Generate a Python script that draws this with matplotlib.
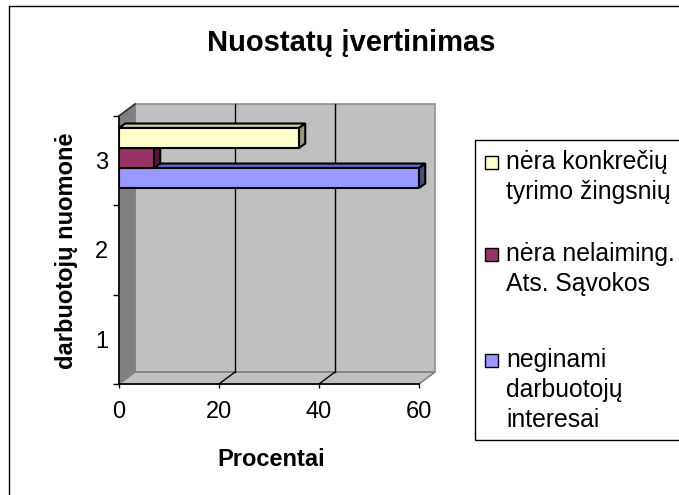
import numpy as np
import matplotlib
matplotlib.use("Agg")
import matplotlib.pyplot as plt
from matplotlib.patches import Polygon, Rectangle

plt.rcParams['font.family'] = ['Liberation Sans', 'DejaVu Sans']

# data
categories = [1, 2, 3]
series_labels = ['nėra konkrečių\ntyrimo žingsnių',
                 'nėra nelaiming.\nAts. Sąvokos',
                 'neginami\ndarbuotojų\ninteresai']
konkreciu = [np.nan, np.nan, 36]
savokos = [np.nan, np.nan, 7]
interesai = [np.nan, np.nan, 60]
xticks = [0, 20, 40, 60]

title = 'Nuostatų įvertinimas'
xlabel = 'Procentai'
ylabel = 'darbuotojų nuomonė'

# colours: front, top, side
front_cols = ['#FFFFCC', '#993366', '#9999FF']
top_cols = ['#CCCCA3', '#7A2952', '#6666CC']
side_cols = ['#999977', '#4D1A33', '#4D4D80']

W, H = 679, 495
fig = plt.figure(figsize=(W / 100, H / 100), dpi=100)
ax = fig.add_axes([119 / W, (H - 384) / H, 300 / W, 268 / H])
ax.set_xlim(0, 60)
ax.set_ylim(0.5, 3.5)
ax.patch.set_visible(False)
for s in ax.spines.values():
    s.set_visible(False)

# 3d wall depth (data units)
DX, DY = 3.2, 0.134
x0, x1 = xticks[0], xticks[-1]
y0, y1 = 0.5, 3.5

# back wall
ax.add_patch(Polygon([(x0 + DX, y0 + DY), (x1 + DX, y0 + DY), (x1 + DX, y1 + DY), (x0 + DX, y1 + DY)],
                     closed=True, fc='#C0C0C0', ec='#909090', lw=1.2, clip_on=False, zorder=0))
# left wall
ax.add_patch(Polygon([(x0, y0), (x0 + DX, y0 + DY), (x0 + DX, y1 + DY), (x0, y1)],
                     closed=True, fc='#808080', ec='#808080', lw=1, clip_on=False, zorder=0.5))
# floor
ax.add_patch(Polygon([(x0, y0), (x1, y0), (x1 + DX, y0 + DY), (x0 + DX, y0 + DY)],
                     closed=True, fc='#C0C0C0', ec='#808080', lw=1.2, clip_on=False, zorder=0.5))

# gridlines on wall and floor
for g in xticks[1:-1]:
    ax.plot([g + DX, g + DX], [y0 + DY, y1 + DY], color='k', lw=1, clip_on=False, zorder=1)
    ax.plot([g, g + DX], [y0, y0 + DY], color='k', lw=1, clip_on=False, zorder=1)

# axis lines
ax.plot([x0, x0], [y0, y1], color='k', lw=1.2, clip_on=False, zorder=1)
ax.plot([x0, x1], [y0, y0], color='k', lw=1.2, clip_on=False, zorder=1)
ax.plot([x0, x0 + DX], [y1, y1 + DY], color='#303030', lw=1.2, clip_on=False, zorder=1)

# bars
BH = 0.224
shift = 0.03
offsets = [BH, 0, -BH]
dxb, dyb = 1.25, 0.05
all_series = [konkreciu, savokos, interesai]
order = [2, 1, 0]  # draw lowest first
for k, i in enumerate(order):
    vals = all_series[i]
    ys = np.array(categories) + shift + offsets[i]
    z = 3 + k
    ax.barh(ys, vals, height=BH, left=0, color=front_cols[i], edgecolor='k', lw=1.5, zorder=z)
    for y, v in zip(ys, vals):
        if np.isnan(v):
            continue
        top = y + BH / 2
        bot = y - BH / 2
        ax.add_patch(Polygon([(0, top), (v, top), (v + dxb, top + dyb), (dxb, top + dyb)],
                             closed=True, fc=top_cols[i], ec='k', lw=1.5, zorder=z - 0.5, clip_on=False))
        ax.add_patch(Polygon([(v, bot), (v, top), (v + dxb, top + dyb), (v + dxb, bot + dyb)],
                             closed=True, fc=side_cols[i], ec='k', lw=1.5, zorder=z - 0.4, clip_on=False))

# ticks
ax.set_xticks(xticks)
ax.tick_params(axis='x', length=3, width=1, direction='out', pad=9, labelsize=17)
ax.set_yticks([0.5, 1.5, 2.5, 3.5])
ax.set_yticklabels([])
ax.set_yticks(categories, minor=True)
ax.set_yticklabels([str(c) for c in categories], minor=True)
ax.tick_params(axis='y', which='major', length=4.3, width=1, direction='out')
ax.tick_params(axis='y', which='minor', length=0, pad=8, labelsize=17)

# texts
fig.text(351 / W, 1 - 43 / H, title, fontsize=21, fontweight='bold', ha='center', va='center')
fig.text(271 / W, 1 - 460 / H, xlabel, fontsize=17, fontweight='bold', ha='center', va='center')
fig.text(67 / W, 1 - 251 / H, ylabel, fontsize=17, fontweight='bold', ha='center', va='center',
         rotation=90)

# legend (manual, Excel style)
fig.patches.append(Rectangle((475 / W, (H - 440) / H), 1, 300 / H, transform=fig.transFigure,
                             fill=False, ec='k', lw=1))
first_line = [162, 254, 360]
for i, lab in enumerate(series_labels):
    yc = first_line[i]
    fig.patches.append(Rectangle((485 / W, (H - yc - 6.5) / H), 13 / W, 13 / H, transform=fig.transFigure,
                                 fc=front_cols[i], ec='k', lw=1))
    for j, line in enumerate(lab.split('\n')):
        fig.text(506 / W, 1 - (yc + j * 30) / H, line, fontsize=17.8, ha='left', va='center')

# outer chart border
fig.patches.append(Rectangle((9 / W, -0.1), 1.2, 1.1 - 6 / H, transform=fig.transFigure,
                             fill=False, ec='k', lw=1))

fig.savefig('out.png', dpi=100)
